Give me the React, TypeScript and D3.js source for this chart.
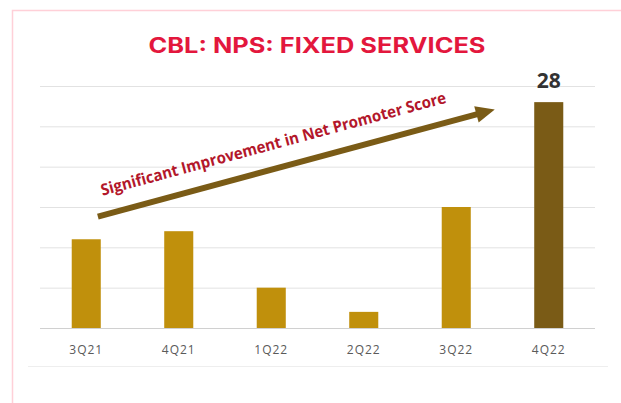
import React, { useEffect, useRef } from "react";
import * as d3 from "d3";

const quarters = ["3Q21", "4Q21", "1Q22", "2Q22", "3Q22", "4Q22"];
const npsValues = [11, 12, 5, 2, 15, 28];
const yTicks = [0, 5, 10, 15, 20, 25, 30];
const highlighted = ["4Q22"];

const title = "CBL: NPS: FIXED SERVICES";
const arrowNote = "Significant Improvement in Net Promoter Score";

const width = 621;
const height = 403;

const App = () => {
  const ref = useRef<SVGSVGElement>(null);

  useEffect(() => {
    const svg = d3.select(ref.current);
    svg.selectAll("*").remove();

    // pink card frame
    svg
      .append("path")
      .attr("d", `M12.5,${height + 2} V10.5 H${width + 2}`)
      .attr("fill", "none")
      .attr("stroke", "#ffd0d8")
      .attr("stroke-width", 1.5);

    svg
      .append("text")
      .text(title)
      .attr("x", 317)
      .attr("y", 53)
      .attr("text-anchor", "middle")
      .attr("font-family", "Inter, 'Open Sans', sans-serif")
      .attr("font-weight", 700)
      .attr("font-size", 21)
      .attr("fill", "#e3173d")
      .attr("textLength", 337)
      .attr("lengthAdjust", "spacingAndGlyphs");

    const x = d3
      .scaleBand()
      .domain(quarters)
      .range([40, 595])
      .paddingInner(0.686)
      .paddingOuter(0.343);

    const y = d3.scaleLinear().domain([0, 30]).range([328, 86]);

    // gridlines
    svg
      .append("g")
      .selectAll("line")
      .data(yTicks)
      .join("line")
      .attr("x1", 40)
      .attr("x2", 595)
      .attr("y1", (d) => y(d) + 0.5)
      .attr("y2", (d) => y(d) + 0.5)
      .attr("stroke", (d) => (d === 0 ? "#d0d0d0" : "#e2e2e2"))
      .attr("stroke-width", 1);

    // faint separator under the axis labels
    svg
      .append("line")
      .attr("x1", 28)
      .attr("x2", 608)
      .attr("y1", 366.5)
      .attr("y2", 366.5)
      .attr("stroke", "#eeeeee");

    const data = quarters.map((q, i) => ({ q, v: npsValues[i] }));

    svg
      .append("g")
      .selectAll("rect")
      .data(data)
      .join("rect")
      .attr("x", (d) => x(d.q)!)
      .attr("width", x.bandwidth())
      .attr("y", (d) => y(d.v))
      .attr("height", (d) => y(0) - y(d.v))
      .attr("fill", (d) => (highlighted.includes(d.q) ? "#7a5b16" : "#c0900c"));

    // x labels
    svg
      .append("g")
      .selectAll("text")
      .data(quarters)
      .join("text")
      .text((d) => d)
      .attr("x", (d) => x(d)! + x.bandwidth() / 2)
      .attr("y", 354)
      .attr("text-anchor", "middle")
      .attr("font-family", "'Open Sans', sans-serif")
      .attr("font-size", 12)
      .attr("letter-spacing", 1)
      .attr("fill", "#5a5a5a");

    // value label for the highlighted bar
    svg
      .append("g")
      .selectAll("text")
      .data(data.filter((d) => highlighted.includes(d.q)))
      .join("text")
      .text((d) => d.v)
      .attr("x", (d) => x(d.q)! + x.bandwidth() / 2)
      .attr("y", (d) => y(d.v) - 14)
      .attr("text-anchor", "middle")
      .attr("font-family", "'Open Sans', sans-serif")
      .attr("font-weight", 700)
      .attr("font-size", 21)
      .attr("fill", "#333333");

    // trend arrow
    const x0 = x("3Q21")! + x.bandwidth() * 0.9;
    const y0 = y(13.8);
    const x1 = x("3Q22")! + x.bandwidth() + 24;
    const y1 = y(27.1);
    const len = Math.hypot(x1 - x0, y1 - y0);
    const angle = (Math.atan2(y1 - y0, x1 - x0) * 180) / Math.PI;
    const head = 19;

    const arrow = svg
      .append("g")
      .attr("transform", `translate(${x0},${y0}) rotate(${angle})`);

    arrow
      .append("line")
      .attr("x1", 0)
      .attr("x2", len - head + 2)
      .attr("y1", 0)
      .attr("y2", 0)
      .attr("stroke", "#7a5b16")
      .attr("stroke-width", 6);

    arrow
      .append("path")
      .attr("d", `M${len},0 L${len - head},-8.5 L${len - head},8.5 Z`)
      .attr("fill", "#7a5b16");

    arrow
      .append("text")
      .text(arrowNote)
      .attr("x", 10)
      .attr("y", -19)
      .attr("font-family", "'Open Sans', sans-serif")
      .attr("font-weight", 700)
      .attr("font-size", 16)
      .attr("fill", "#b3172b")
      .attr("textLength", 357)
      .attr("lengthAdjust", "spacingAndGlyphs");
  }, []);

  return (
    <svg
      ref={ref}
      width={width}
      height={height}
      viewBox={`0 0 ${width} ${height}`}
      style={{ position: "absolute", left: 0, top: 0, background: "#ffffff" }}
    ></svg>
  );
};

export default App;
